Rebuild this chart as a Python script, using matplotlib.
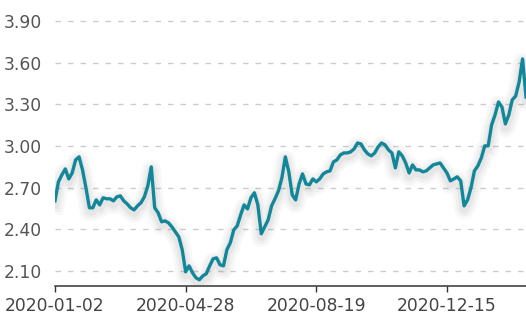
import numpy as np
import matplotlib
matplotlib.use('Agg')
import matplotlib.pyplot as plt
import matplotlib.patheffects as pe

#==================================
# Data
# one value every 2 trading days (index step 2)
nav = [2.605, 2.742, 2.792, 2.835, 2.763, 2.806, 2.900, 2.922, 2.828, 2.699,
       2.555, 2.555, 2.612, 2.576, 2.627, 2.620, 2.620, 2.605, 2.634, 2.641,
       2.605, 2.583, 2.555, 2.540, 2.569, 2.591, 2.634, 2.713, 2.850, 2.555,
       2.519, 2.454, 2.461, 2.447, 2.418, 2.382, 2.346, 2.253, 2.094, 2.137,
       2.087, 2.051, 2.037, 2.065, 2.080, 2.137, 2.188, 2.195, 2.145, 2.137,
       2.253, 2.303, 2.396, 2.425, 2.504, 2.576, 2.547, 2.627, 2.663, 2.576,
       2.368, 2.418, 2.468, 2.569, 2.620, 2.677, 2.771, 2.922, 2.814, 2.648,
       2.612, 2.727, 2.799, 2.727, 2.720, 2.763, 2.742, 2.763, 2.799, 2.814,
       2.821, 2.886, 2.900, 2.936, 2.950, 2.950, 2.958, 2.979, 3.022, 3.015,
       2.972, 2.943, 2.929, 2.950, 2.994, 3.022, 3.008, 2.972, 2.950, 2.842,
       2.958, 2.929, 2.878, 2.806, 2.864, 2.828, 2.828, 2.814, 2.821, 2.842,
       2.864, 2.871, 2.878, 2.842, 2.806, 2.749, 2.763, 2.778, 2.749, 2.569,
       2.612, 2.699, 2.821, 2.857, 2.914, 3.001, 3.001, 3.152, 3.224, 3.317,
       3.281, 3.159, 3.224, 3.332, 3.360, 3.461, 3.627, 3.353]
step = 2
tick_labels = ['2020-01-02', '2020-04-28', '2020-08-19', '2020-12-15']
tick_idx = [0, 76, 152, 228]
y_ticks = [2.10, 2.40, 2.70, 3.00, 3.30, 3.60, 3.90]

x = np.arange(len(nav)) * step

#==========
# Plotting
fig = plt.figure(figsize=(5.26, 3.25), dpi=100)
ax = fig.add_axes([55/526, 39/325, 471/526, 265/325])

# soft grey glow under the line
shadow = [pe.SimpleLineShadow(offset=(0, -2.5), shadow_color='#777777', alpha=a, linewidth=w)
          for w, a in ((14, 0.05), (10, 0.06), (6, 0.08))]
ax.plot(x, nav, color='#13879a', lw=2.4, solid_joinstyle='round',
        path_effects=shadow + [pe.Normal()], zorder=3)

ax.set_xlim(0, x[-1])
ax.set_ylim(1.992, 3.90)
ax.set_yticks(y_ticks)
ax.set_yticklabels(['%.2f' % v for v in y_ticks])
ax.set_xticks(tick_idx)
ax.set_xticklabels(tick_labels)

ax.grid(axis='y', color='#cccccc', linestyle=(0, (4, 5)), linewidth=1.0, clip_on=False)
ax.grid(axis='x', visible=False)
for s in ['left', 'right', 'top']:
    ax.spines[s].set_visible(False)
ax.spines['bottom'].set_color('#333333')
ax.spines['bottom'].set_linewidth(1.1)

ax.tick_params(axis='y', length=0, pad=9.5, labelsize=12.3, labelcolor='#555555')
ax.tick_params(axis='x', length=4, width=1.0, color='#333333', pad=4,
               labelsize=12.3, labelcolor='#444444')

fig.savefig('out.png', dpi=100)
